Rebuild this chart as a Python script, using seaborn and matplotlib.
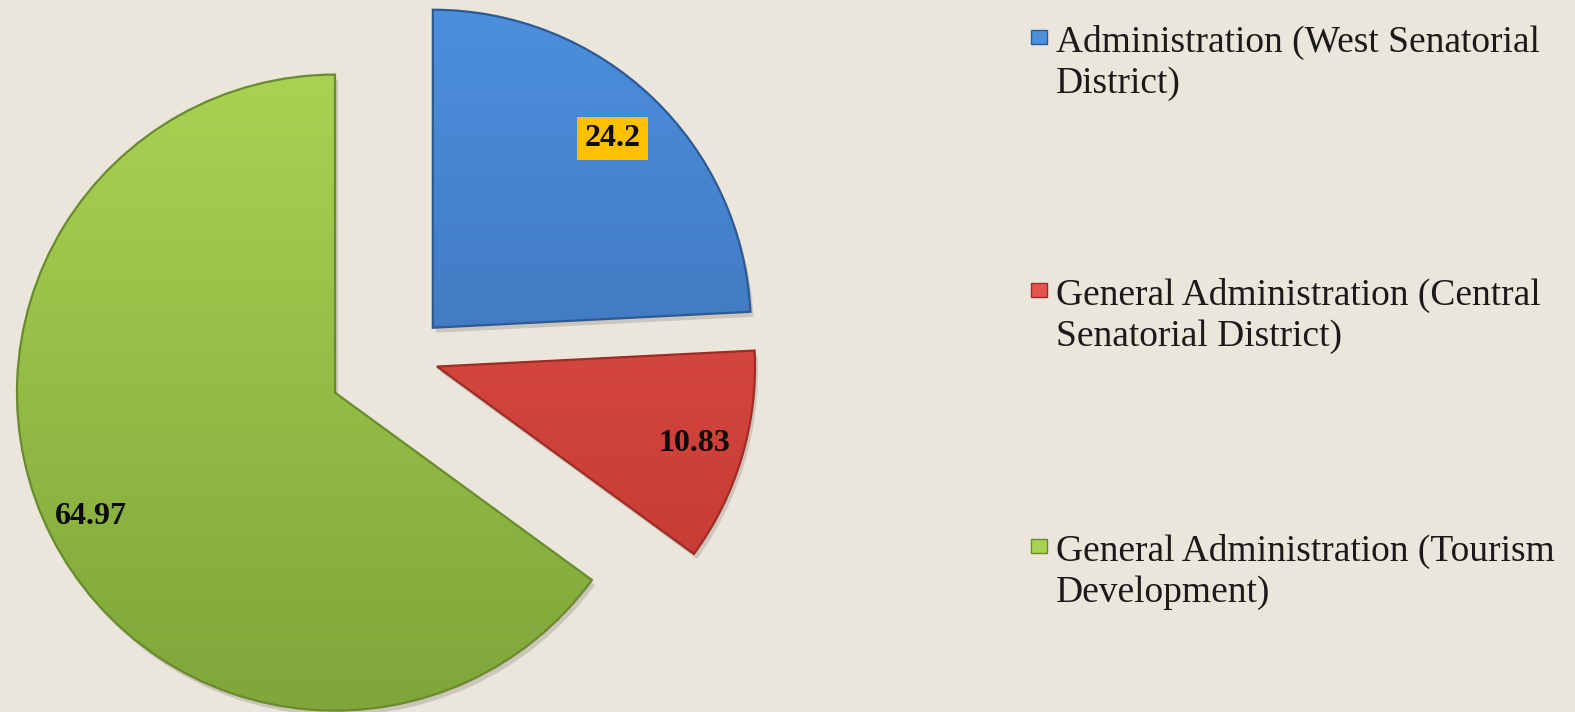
import numpy as np
import matplotlib
matplotlib.use("Agg")
import matplotlib.pyplot as plt
import seaborn as sns
from matplotlib.patches import Wedge, Rectangle
from matplotlib.colors import LinearSegmentedColormap

# Budget shares by programme (values sum to 100)
categories = [
    "Administration (West Senatorial\nDistrict)",
    "General Administration (Central\nSenatorial District)",
    "General Administration (Tourism\nDevelopment)",
]
values = [24.2, 10.83, 64.97]
value_labels = ["24.2", "10.83", "64.97"]

# Styling
explode = [0.127, 0.105, 0.247]
label_dist = [0.82, 0.845, 0.86]
top_colors = ["#4C8FDD", "#E4534D", "#A9D252"]
bottom_colors = ["#3868AA", "#C1372F", "#80A53A"]
edge_colors = ["#2E5A94", "#9E2C25", "#6A8A2E"]
bg_color = "#EBE6DC"

sns.set_theme(style="white")
plt.rcParams["font.family"] = ["Liberation Serif", "DejaVu Serif"]

W, H = 1575, 712
fig = plt.figure(figsize=(W / 100, H / 100), dpi=100)
fig.patch.set_facecolor(bg_color)
ax = fig.add_axes([0, 0, 1, 1])
ax.set_facecolor(bg_color)

wedges, _ = ax.pie(
    values,
    explode=explode,
    startangle=90,
    counterclock=False,
    radius=1.0,
    colors=top_colors,
    wedgeprops=dict(linewidth=0),
)

# pixel scale: pie radius 318 px, pie centre at (405, 357) from top-left
R_PX, CX, CY = 318.0, 405.0, 357.0
ax.axis("off")

px = 1.0 / R_PX
for i, w in enumerate(wedges):
    cx, cy = w.center
    r = w.r
    # soft drop shadow
    sh = Wedge((cx + 3 * px, cy - 5 * px), r, w.theta1, w.theta2,
               facecolor="#5a5448", alpha=0.22, linewidth=0, zorder=0.5)
    ax.add_patch(sh)
    w.set_zorder(1)
    # vertical gradient fill clipped to the slice
    cmap = LinearSegmentedColormap.from_list(
        f"g{i}", [bottom_colors[i], top_colors[i]])
    grad = np.linspace(0, 1, 256).reshape(-1, 1)
    im = ax.imshow(grad, cmap=cmap, origin="lower", aspect="auto",
                   extent=[cx - r, cx + r, cy - r, cy + r], zorder=1.5,
                   interpolation="bilinear")
    im.set_clip_path(w)
    # bevelled outline
    ax.add_patch(Wedge((cx, cy), r, w.theta1, w.theta2, facecolor="none",
                       edgecolor=edge_colors[i], linewidth=1.6, zorder=2))

ax.set_xlim(-CX / R_PX, (W - CX) / R_PX)
ax.set_ylim(-(H - CY) / R_PX, CY / R_PX)
ax.set_aspect("auto")

# value labels inside slices
for i, w in enumerate(wedges):
    ang = np.deg2rad((w.theta1 + w.theta2) / 2)
    x = w.center[0] + label_dist[i] * w.r * np.cos(ang)
    y = w.center[1] + label_dist[i] * w.r * np.sin(ang)
    box = None
    if i == 0:
        box = dict(boxstyle="square,pad=0.22", facecolor="#FFC000",
                   edgecolor="none")
    ax.text(x, y, value_labels[i], ha="center", va="center", fontsize=23,
            fontweight="bold", color="#0a0a0a", bbox=box, zorder=5)

# legend on the right: two-line labels, marker beside the first line
last_baselines = [93, 346, 602]
marker_centres = [37, 290, 546]
for i, lab in enumerate(categories):
    fig.text(1056 / W, 1 - last_baselines[i] / H, lab, ha="left",
             va="baseline", fontsize=27, color="#1a1a1a", linespacing=1.25)
    mc = marker_centres[i]
    fig.add_artist(Rectangle((1031 / W, 1 - (mc + 7) / H), 16 / W, 14 / H,
                             transform=fig.transFigure,
                             facecolor=top_colors[i],
                             edgecolor=edge_colors[i], linewidth=1.0))

fig.savefig("out.png", dpi=100, facecolor=bg_color)
